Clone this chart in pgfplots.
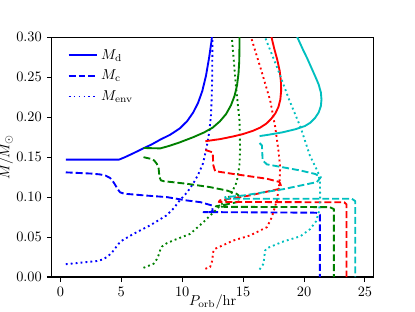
\documentclass[border=0pt]{standalone}
\usepackage{pgfplots}
\pgfplotsset{compat=1.18}
\definecolor{mplblue}{rgb}{0,0,1}
\definecolor{mplgreen}{rgb}{0,0.5,0}
\definecolor{mplred}{rgb}{1,0,0}
\definecolor{mplcyan}{rgb}{0,0.75,0.75}
\tikzset{
  mdsty/.style={solid, line width=1.3pt, line join=round},
  mcsty/.style={line width=1.3pt, line join=round, dash pattern=on 4.8pt off 2.1pt},
  mesty/.style={line width=1.3pt, line join=round, dash pattern=on 1.3pt off 2.15pt},
}
\begin{document}
\begin{tikzpicture}
\path[use as bounding box] (-36.14pt,-23.85pt) rectangle (252.95pt,192.96pt);
\begin{axis}[
  at={(0pt,0pt)}, anchor=south west, scale only axis,
  width=224.04pt, height=166.94pt,
  xmin=-0.7, xmax=25.7, ymin=0, ymax=0.3,
  xtick={0,5,10,15,20,25},
  ytick={0,0.05,0.1,0.15,0.2,0.25,0.3},
  yticklabel style={/pgf/number format/.cd, fixed, fixed zerofill, precision=2},
  tick align=outside, tick pos=left, major tick length=3.5pt,
  axis line style={line width=0.7pt},
  every tick/.style={line width=0.7pt, black},
  xlabel={$P_{\rm orb}/{\rm hr}$},
  ylabel={$M/M_\odot$},
  every axis x label/.style={at={(axis description cs:0.5,-0.105)}, anchor=center},
  every axis y label/.style={at={(axis description cs:-0.143,0.5)}, rotate=90, anchor=center},
  legend style={draw=none, fill=none, at={(axis description cs:0.035,0.975)}, anchor=north west, row sep=2pt, font=\normalsize},
  legend cell align=left,
  legend image code/.code={\draw[#1] (0pt,0pt) -- (20pt,0pt);},
  clip=true,
]
% ---------- blue track ----------
\addplot[mplblue, mdsty] coordinates {
(0.44,0.147) (4.82,0.147) (5.3,0.150) (6.0,0.155) (6.8,0.161) (7.5,0.166) (8.2,0.172) (9.0,0.178) (9.8,0.186) (10.4,0.195) (10.9,0.206) (11.3,0.218) (11.65,0.233) (11.95,0.252) (12.2,0.274) (12.4,0.295) (12.5,0.31)};
\addlegendentry{$M_{\rm d}$}
\addplot[mplblue, mcsty] coordinates {
(0.44,0.131) (2.5,0.1295) (3.26,0.1284) (3.7,0.127) (4.08,0.124) (4.3,0.120) (4.49,0.1155) (4.7,0.110) (4.9,0.106) (5.2,0.1045) (5.45,0.104) (7.0,0.102) (8.74,0.100) (10.38,0.0958) (11.49,0.0937) (12.43,0.0896) (12.5,0.083) (12.3,0.0812) (11.74,0.0812) (12.6,0.0812) (21.0,0.0805) (21.3,0.078) (21.3,0)};
\addlegendentry{$M_{\rm c}$}
\addplot[mplblue, mesty] coordinates {
(0.44,0.016) (3.0,0.020) (3.5,0.022) (3.9,0.026) (4.2,0.030) (4.5,0.036) (4.8,0.042) (5.1,0.046) (6.0,0.054) (7.4,0.065) (8.7,0.077) (9.3,0.086) (9.8,0.096) (10.4,0.106) (10.9,0.117) (11.3,0.128) (11.7,0.142) (12.0,0.162) (12.2,0.18) (12.35,0.2) (12.42,0.225) (12.46,0.25) (12.48,0.30) (12.49,0.31)};
\addlegendentry{$M_{\rm env}$}
% ---------- green track ----------
\addplot[mplgreen, mdsty, forget plot] coordinates {
(6.82,0.1615) (8.2,0.161) (8.9,0.164) (9.7,0.168) (10.9,0.175) (11.8,0.181) (12.5,0.187) (13.1,0.195) (13.6,0.204) (14.0,0.215) (14.3,0.227) (14.5,0.24) (14.62,0.255) (14.68,0.27) (14.7,0.29) (14.7,0.31)};
\addplot[mplgreen, mcsty, forget plot] coordinates {
(6.82,0.150) (7.4,0.148) (7.69,0.146) (7.9,0.142) (8.05,0.1375) (8.1,0.130) (8.13,0.125) (8.25,0.121) (8.46,0.120) (10.38,0.1167) (12.29,0.1125) (13.66,0.1083) (14.48,0.104) (14.78,0.100) (14.6,0.094) (13.5,0.0905) (12.75,0.0885) (13.5,0.0878) (22.1,0.0875) (22.45,0.085) (22.45,0)};
\addplot[mplgreen, mesty, forget plot] coordinates {
(6.82,0.0115) (7.64,0.0165) (7.9,0.022) (8.05,0.027) (8.2,0.034) (8.33,0.038) (8.7,0.042) (9.3,0.046) (10.65,0.054) (11.74,0.0687) (12.84,0.085) (13.95,0.102) (14.48,0.119) (14.7,0.14) (14.75,0.16) (14.7,0.196) (14.42,0.237) (14.07,0.30) (14.0,0.31)};
% ---------- red track ----------
\addplot[mplred, mdsty, forget plot] coordinates {
(11.9,0.170) (13.1,0.1726) (14.2,0.176) (15.0,0.179) (15.8,0.183) (16.4,0.187) (16.9,0.192) (17.3,0.198) (17.65,0.205) (17.9,0.213) (18.05,0.222) (18.12,0.233) (18.1,0.245) (18.0,0.258) (17.8,0.272) (17.55,0.286) (17.33,0.30) (17.25,0.31)};
\addplot[mplred, mcsty, forget plot] coordinates {
(11.9,0.159) (12.5,0.156) (12.55,0.14) (12.7,0.1325) (14.2,0.129) (16.95,0.123) (17.98,0.119) (18.1,0.1146) (17.9,0.110) (15.5,0.102) (13.1,0.096) (13.0,0.094) (23.3,0.0935) (23.48,0.091) (23.48,0)};
\addplot[mplred, mesty, forget plot] coordinates {
(11.9,0.0103) (12.29,0.0123) (12.45,0.02) (12.56,0.033) (12.7,0.0353) (14.2,0.0457) (15.57,0.052) (16.95,0.0624) (17.36,0.075) (17.77,0.096) (17.98,0.117) (18.04,0.1375) (17.9,0.158) (17.63,0.188) (17.22,0.221) (16.4,0.263) (15.65,0.30) (15.5,0.31)};
% ---------- cyan track ----------
\addplot[mplcyan, mdsty, forget plot] coordinates {
(16.35,0.1764) (17.05,0.178) (18.2,0.181) (19.3,0.185) (20.07,0.189) (20.5,0.193) (20.9,0.199) (21.2,0.206) (21.38,0.214) (21.43,0.222) (21.38,0.231) (21.2,0.241) (20.95,0.25) (20.6,0.262) (20.25,0.274) (19.9,0.285) (19.45,0.30) (19.35,0.31)};
\addplot[mplcyan, mcsty, forget plot] coordinates {
(16.35,0.1676) (16.54,0.1647) (16.6,0.146) (16.95,0.141) (19.68,0.1334) (20.91,0.129) (21.38,0.125) (21.05,0.1188) (18.31,0.110) (15.02,0.102) (13.52,0.100) (13.6,0.098) (23.92,0.098) (24.2,0.095) (24.2,0)};
\addplot[mplcyan, mesty, forget plot] coordinates {
(16.35,0.0094) (16.67,0.0165) (16.8,0.033) (16.95,0.036) (18.31,0.0445) (19.7,0.051) (20.5,0.06) (21.0,0.07) (21.24,0.083) (21.32,0.1) (21.3,0.12) (21.15,0.131) (20.48,0.152) (19.7,0.188) (18.8,0.221) (17.77,0.263) (16.8,0.30) (16.7,0.31)};
\end{axis}
\end{tikzpicture}
\end{document}
